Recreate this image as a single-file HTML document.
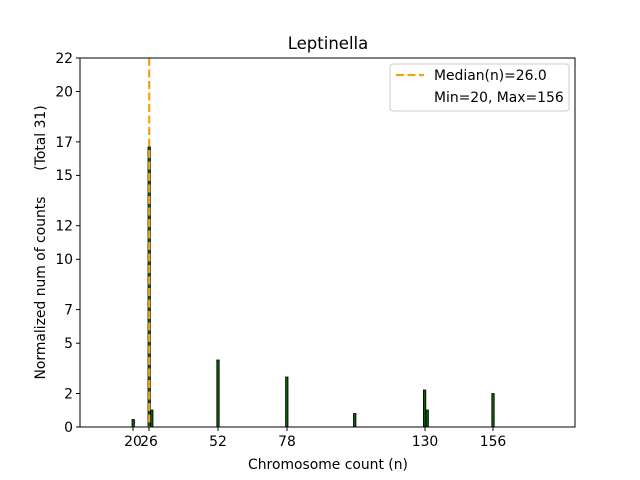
<!DOCTYPE html>
<html><head><meta charset="utf-8"><style>body{margin:0;background:#fff}svg{display:block}text{font-family:"DejaVu Sans","Liberation Sans",sans-serif;fill:#000}</style></head><body>
<svg width="640" height="480" viewBox="0 0 640 480">
<rect width="640" height="480" fill="#fff"/>
<text x="328" y="49" font-size="16.5" text-anchor="middle">Leptinella</text>
<g fill="#0a5c0a" stroke="#000" stroke-width="0.8">
<rect x="132" y="419.5" width="2.4" height="7.5"/>
<rect x="148" y="147" width="2.4" height="280"/>
<rect x="150.6" y="410" width="2.4" height="17"/>
<rect x="216.8" y="360" width="2.4" height="67"/>
<rect x="285.6" y="377" width="2.4" height="50"/>
<rect x="353.5" y="413.5" width="2.4" height="13.5"/>
<rect x="423.4" y="390" width="2.4" height="37"/>
<rect x="426" y="410" width="2.4" height="17"/>
<rect x="491.8" y="393.5" width="2.4" height="33.5"/>
</g>
<line x1="149.2" y1="58" x2="149.2" y2="427" stroke="#f0a30a" stroke-width="2.2" stroke-dasharray="8,3.5"/>
<rect x="80" y="58" width="495" height="369" fill="none" stroke="#000" stroke-width="1"/>
<g stroke="#000" stroke-width="1">
<line x1="80" y1="427" x2="76" y2="427"/><line x1="80" y1="393.5" x2="76" y2="393.5"/><line x1="80" y1="343.2" x2="76" y2="343.2"/><line x1="80" y1="309.6" x2="76" y2="309.6"/><line x1="80" y1="259.3" x2="76" y2="259.3"/><line x1="80" y1="225.7" x2="76" y2="225.7"/><line x1="80" y1="175.4" x2="76" y2="175.4"/><line x1="80" y1="141.9" x2="76" y2="141.9"/><line x1="80" y1="91.5" x2="76" y2="91.5"/><line x1="80" y1="58" x2="76" y2="58"/>
<line x1="133" y1="427" x2="133" y2="431"/><line x1="149" y1="427" x2="149" y2="431"/><line x1="218" y1="427" x2="218" y2="431"/><line x1="287" y1="427" x2="287" y2="431"/><line x1="425" y1="427" x2="425" y2="431"/><line x1="493" y1="427" x2="493" y2="431"/>
</g>
<g font-size="13.9" text-anchor="end">
<text x="73" y="432">0</text><text x="73" y="398.5">2</text><text x="73" y="348">5</text><text x="73" y="314.5">7</text><text x="73" y="264">10</text><text x="73" y="230.5">12</text><text x="73" y="180">15</text><text x="73" y="147">17</text><text x="73" y="96.5">20</text><text x="73" y="63">22</text>
</g>
<g font-size="13.9" text-anchor="middle">
<text x="133" y="446">20</text><text x="149" y="446">26</text><text x="218" y="446">52</text><text x="287" y="446">78</text><text x="425" y="446">130</text><text x="493" y="446">156</text>
<text x="328" y="469">Chromosome count (n)</text>
</g>
<text font-size="13.9" text-anchor="middle" transform="translate(45,288) rotate(-90)">Normalized num of counts</text>
<text font-size="13.9" text-anchor="middle" transform="translate(45,138) rotate(-90)">(Total 31)</text>
<rect x="390" y="64" width="179" height="47" rx="3" fill="#fff" stroke="#ccc"/>
<line x1="396" y1="75" x2="424" y2="75" stroke="#f0a30a" stroke-width="2.2" stroke-dasharray="8,3.5"/>
<text x="434" y="80" font-size="13.9">Median(n)=26.0</text>
<text x="434" y="102" font-size="13.9">Min=20, Max=156</text>
</svg>
</body></html>
